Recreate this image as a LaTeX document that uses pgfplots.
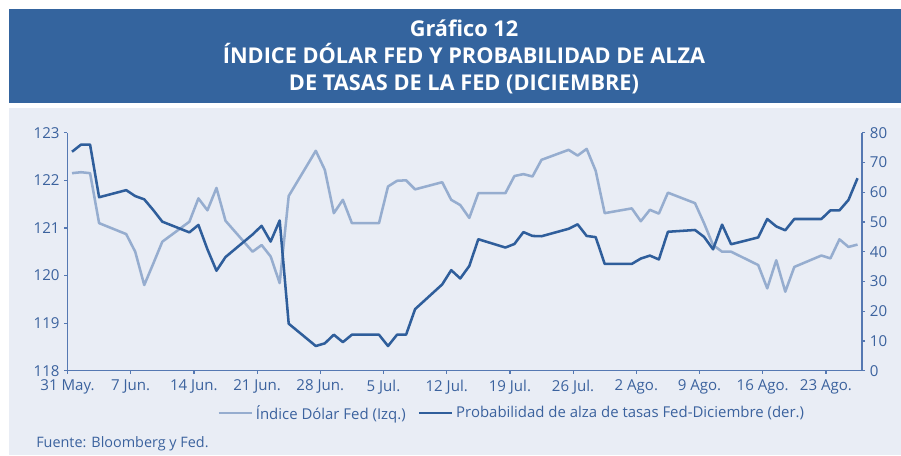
\documentclass[border=0pt]{standalone}
\usepackage{pgfplots}
\pgfplotsset{compat=1.18}
\usepackage{pgfplotstable}
\usepackage{fontspec}
\setmainfont{Open Sans}
\definecolor{banner}{RGB}{52,100,158}
\definecolor{panel}{RGB}{233,237,245}
\definecolor{darkline}{RGB}{47,94,155}
\definecolor{lightline}{RGB}{150,173,207}
\definecolor{txt}{RGB}{59,98,158}
\definecolor{axcol}{RGB}{85,120,178}

\pgfplotstableread{
day val
0 122.15
1 122.17
2 122.15
3 121.10
6 120.87
7 120.50
8 119.80
9 120.25
10 120.71
13 121.13
14 121.62
15 121.37
16 121.84
17 121.15
20 120.50
21 120.64
22 120.40
23 119.84
24 121.67
27 122.62
28 122.22
29 121.31
30 121.59
31 121.10
34 121.10
35 121.87
36 121.99
37 122.00
38 121.81
41 121.96
42 121.59
43 121.48
44 121.21
45 121.73
48 121.73
49 122.09
50 122.13
51 122.08
52 122.43
55 122.64
56 122.52
57 122.66
58 122.20
59 121.31
62 121.41
63 121.14
64 121.38
65 121.30
66 121.74
69 121.52
70 121.10
71 120.64
72 120.50
73 120.50
76 120.22
77 119.73
78 120.32
79 119.66
80 120.18
83 120.42
84 120.36
85 120.76
86 120.60
87 120.65
}\dolar

\pgfplotstableread{
day val
0 73.6
1 76.0
2 76.0
3 58.3
6 60.7
7 58.7
8 57.6
9 54.0
10 50.1
13 46.5
14 49.0
15 40.8
16 33.6
17 38.2
20 45.8
21 48.7
22 43.4
23 50.5
24 15.8
27 8.3
28 9.2
29 12.1
30 9.6
31 12.1
34 12.1
35 8.3
36 12.1
37 12.1
38 20.7
41 29.0
42 33.8
43 31.0
44 35.2
45 44.2
48 41.4
49 42.6
50 46.6
51 45.3
52 45.2
55 47.7
56 49.2
57 45.3
58 44.9
59 35.9
62 35.9
63 37.7
64 38.7
65 37.4
66 46.7
69 47.3
70 45.0
71 40.8
72 49.1
73 42.5
76 44.8
77 51.0
78 48.5
79 47.2
80 51.0
83 51.0
84 53.9
85 53.9
86 57.4
87 64.7
}\prob

\pgfplotsset{
  common/.style={
    at={(50.625pt,63.225pt)}, anchor=south west,
    scale only axis, width=595.9pt, height=178.5pt,
    xmin=-0.5, xmax=87.5,
    tick align=outside, major tick length=2.4pt,
    tick style={axcol, line width=0.9pt},
    axis line style={-, draw=axcol, line width=1.1pt},
    tick label style={text=txt, font=\fontsize{11.3}{13}\selectfont},
    /pgf/number format/assume math mode=true,
    clip=false,
  }
}

\begin{document}
\begin{tikzpicture}
\fill[white] (0pt,0pt) rectangle (675.75pt,341.25pt);
\fill[banner] (6.75pt,264pt) rectangle (675.75pt,334.5pt);
\fill[panel] (6.75pt,0pt) rectangle (675.75pt,260.25pt);
\node[text=white, align=center, font=\bfseries\fontsize{16.3}{20.25}\selectfont] at (348pt,298.5pt)
  {Gráfico 12\\ÍNDICE DÓLAR FED Y PROBABILIDAD DE ALZA\\DE TASAS DE LA FED (DICIEMBRE)};
\node[anchor=base west, text=txt, font=\fontsize{10.8}{12}\selectfont, inner sep=0pt] at (27pt,5.5pt) {Fuente: Bloomberg y Fed.};

\begin{axis}[common,
  axis y line*=left, axis x line*=bottom,
  ymin=118, ymax=123, ytick={118,119,120,121,122,123},
  xtick={-0.5,6.5,13.5,20.5,27.5,34.5,41.5,48.5,55.5,62.5,69.5,76.5,83.5},
  xticklabels={31 May.,7 Jun.,14 Jun.,21 Jun.,28 Jun.,5 Jul.,12 Jul.,19 Jul.,26 Jul.,2 Ago.,9 Ago.,16 Ago.,23 Ago.},
  xticklabel style={yshift=-1pt},
]
\addplot[lightline, line width=1.9pt, line join=round] table[x=day, y=val] {\dolar};
\end{axis}

\begin{axis}[common,
  axis y line*=right, axis x line=none,
  ymin=0, ymax=80, ytick={0,10,...,80},
  legend columns=2,
  legend style={at={(0.5595,-0.178)}, anchor=center, draw=none, fill=none,
    text=txt, font=\fontsize{11.2}{13}\selectfont,
    /tikz/every even column/.append style={column sep=7pt}},
  legend image code/.code={\draw[#1] (0pt,0pt) -- (25pt,0pt);},
]
\addlegendimage{lightline, line width=1.9pt}
\addlegendentry{Índice Dólar Fed (Izq.)}
\addplot[darkline, line width=1.9pt, line join=round] table[x=day, y=val] {\prob};
\addlegendentry{Probabilidad de alza de tasas Fed-Diciembre (der.)}
\end{axis}
\end{tikzpicture}
\end{document}
